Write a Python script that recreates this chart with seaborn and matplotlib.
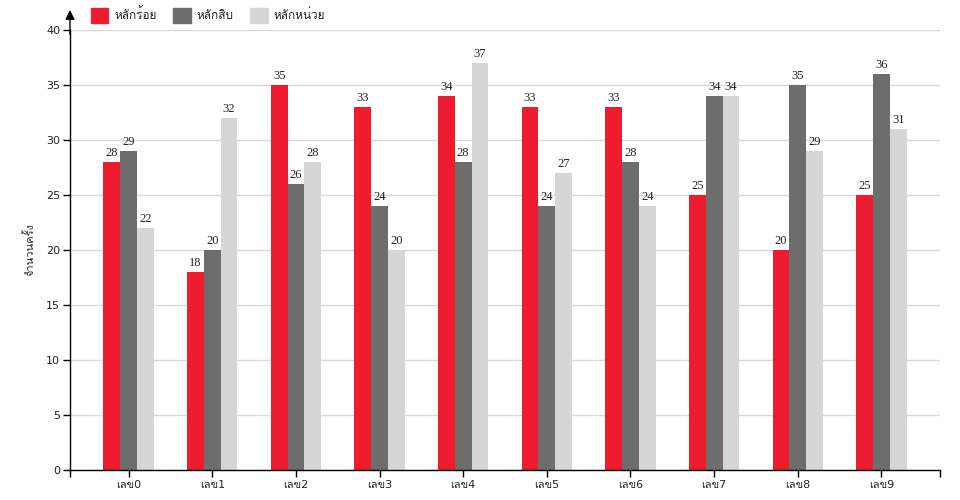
import matplotlib
matplotlib.use("Agg")
import matplotlib.pyplot as plt
import matplotlib.patches as mpatches
import pandas as pd
import seaborn as sns

# ข้อมูลจากกราฟ
categories = ["เลข0", "เลข1", "เลข2", "เลข3", "เลข4", "เลข5", "เลข6", "เลข7", "เลข8", "เลข9"]
series_names = ["หลักร้อย", "หลักสิบ", "หลักหน่วย"]
hundreds = [28, 18, 35, 33, 34, 33, 33, 25, 20, 25]
tens = [29, 20, 26, 24, 28, 24, 28, 34, 35, 36]
units = [22, 32, 28, 20, 37, 27, 24, 34, 29, 31]
colors = ["#ED1C2E", "#6D6D6E", "#D6D6D6"]
y_ticks = [0, 5, 10, 15, 20, 25, 30, 35, 40]

sns.set_theme(style="white")
plt.rcParams["font.family"] = ["DejaVu Sans", "Loma"]


def build_frame():
    rows = []
    for name, values in zip(series_names, [hundreds, tens, units]):
        for cat, v in zip(categories, values):
            rows.append({"category": cat, "series": name, "count": v})
    return pd.DataFrame(rows)


def draw(df):
    fig = plt.figure(figsize=(9.6, 5), dpi=100)
    ax = fig.add_axes([70 / 960, 30 / 500, 870 / 960, 440 / 500])

    sns.barplot(data=df, x="category", y="count", hue="series", order=categories,
                hue_order=series_names, palette=colors, width=0.6, linewidth=0,
                saturation=1, legend=False, ax=ax)

    for cont in ax.containers:
        ax.bar_label(cont, padding=2, fontsize=9, color="#222222",
                     family="Liberation Serif")

    ax.set_xlim(-0.7, 9.7)
    ax.set_ylim(0, 40)
    ax.set_yticks(y_ticks)
    ax.yaxis.grid(True, color="#D9D9D9", linewidth=1)
    ax.set_axisbelow(True)
    ax.set_xlabel("")
    ax.set_ylabel("จำนวนครั้ง", fontsize=8, color="#222222", labelpad=8)

    for side in ["top", "right"]:
        ax.spines[side].set_visible(False)
    for side in ["left", "bottom"]:
        ax.spines[side].set_color("black")
        ax.spines[side].set_linewidth(1)

    ax.set_xticks([-0.7, 9.7], minor=True)
    ax.tick_params(axis="x", which="both", direction="out", length=5, width=1,
                   color="black", labelsize=8, labelcolor="#222222", pad=2)
    ax.tick_params(axis="y", direction="out", length=5, width=1, color="black",
                   labelsize=8, labelcolor="#222222", pad=2)
    ax.tick_params(left=True, bottom=True)
    ax.tick_params(axis="x", which="minor", bottom=True)

    # ลูกศรบนแกน y
    ax.annotate("", xy=(0, 1 + 20 / 440), xytext=(0, 0.99),
                xycoords="axes fraction",
                arrowprops=dict(arrowstyle="-|>", color="black", lw=1,
                                mutation_scale=14, shrinkA=0, shrinkB=0))

    handles = [mpatches.Patch(color=c, label=n) for c, n in zip(colors, series_names)]
    fig.legend(handles=handles, loc="upper left", bbox_to_anchor=(80 / 960, 1.005),
               ncol=3, frameon=False, fontsize=8.5, handlelength=1.5,
               handleheight=1.5, handletextpad=0.5, columnspacing=1.4,
               labelcolor="#222222")

    fig.savefig("out.png", dpi=100)


def main():
    df = build_frame()
    draw(df)


if __name__ == "__main__":
    main()
